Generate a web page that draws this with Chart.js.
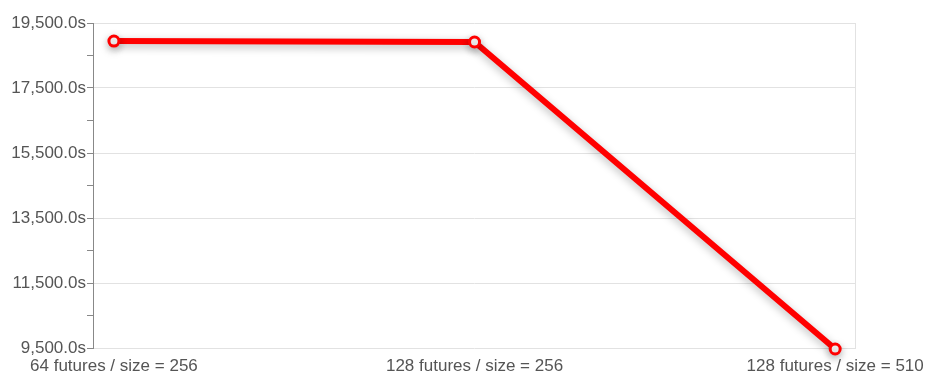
<!DOCTYPE html>
<html>
<head>
<meta charset="utf-8">
<script src="https://cdn.jsdelivr.net/npm/chart.js@4"></script>
<style>
	html, body { margin: 0; padding: 0; background: #fff; }
	#wrap { width: 928px; height: 376px; }
</style>
</head>
<body>
<div id="wrap"><canvas id="RunTimes"></canvas></div>
<script>
const run_labels = ["64 futures / size = 256", "128 futures / size = 256", "128 futures / size = 510"];
const run_positions = [0, 1, 2];
const run_seconds = [18945, 18915, 9470];

const y_min = 9500;
const y_max = 19500;

// soft shadow under the line, like the original
const line_shadow = {
	id: "lineShadow",
	beforeDatasetDraw(chart) {
		const ctx = chart.ctx;
		ctx.save();
		ctx.shadowColor = "rgba(0, 0, 0, 0.28)";
		ctx.shadowBlur = 8;
		ctx.shadowOffsetY = 3;
	},
	afterDatasetDraw(chart) {
		chart.ctx.restore();
	},
};

function is_major(value) {
	return (value - y_min) % 2000 === 0;
}

new Chart(document.getElementById("RunTimes").getContext("2d"), {
	type: "line",
	data: {
		datasets: [
			{
				data: run_positions.map((x, i) => ({ x: x, y: run_seconds[i] })),
				borderColor: "#ff0000",
				borderWidth: 6,
				pointRadius: 5,
				pointBorderWidth: 3,
				pointBackgroundColor: "#ffffff",
				pointBorderColor: "#ff0000",
				tension: 0,
				clip: false,
			},
		],
	},
	options: {
		responsive: true,
		maintainAspectRatio: false,
		animation: false,
		layout: { padding: { left: 0, right: 0, top: 23, bottom: 0 } },
		plugins: {
			legend: { display: false },
			tooltip: { enabled: false },
		},
		scales: {
			x: {
				type: "linear",
				min: -0.058,
				max: 2.055,
				afterBuildTicks: (scale) => {
					scale.ticks = run_positions.map((v) => ({ value: v }));
				},
				afterFit: (scale) => {
					scale.height = 28;
					// labels may hang past the plot edges, as in the original
					scale.paddingLeft = 0;
					scale.paddingRight = 0;
				},
				ticks: {
					color: "#555",
					font: { family: "Liberation Sans", size: 17 },
					maxRotation: 0,
					padding: 8,
					callback: (value) => run_labels[value],
				},
				grid: { display: false, drawTicks: false },
				border: { display: false },
			},
			y: {
				min: y_min,
				max: y_max,
				afterFit: (scale) => {
					scale.width = 93;
				},
				ticks: {
					stepSize: 1000,
					autoSkip: false,
					color: "#555",
					padding: 1,
					font: { family: "Liberation Sans", size: 17 },
					callback: (value) =>
						is_major(value)
							? value.toLocaleString("en-US", { minimumFractionDigits: 1, maximumFractionDigits: 1 }) + "s"
							: "",
				},
				grid: {
					color: (c) => (c.tick && is_major(c.tick.value) ? "#e2e2e2" : "rgba(0,0,0,0)"),
					tickColor: "#888",
					tickLength: 6,
					lineWidth: 1,
				},
				border: { color: "#888", width: 1 },
			},
			right_edge: {
				type: "linear",
				position: "right",
				min: y_min,
				max: y_max,
				afterFit: (scale) => {
					scale.width = 73;
				},
				ticks: { display: false },
				grid: { display: false, drawTicks: false },
				border: { color: "#e2e2e2", width: 1 },
			},
		},
	},
	plugins: [line_shadow],
});
</script>
</body>
</html>
